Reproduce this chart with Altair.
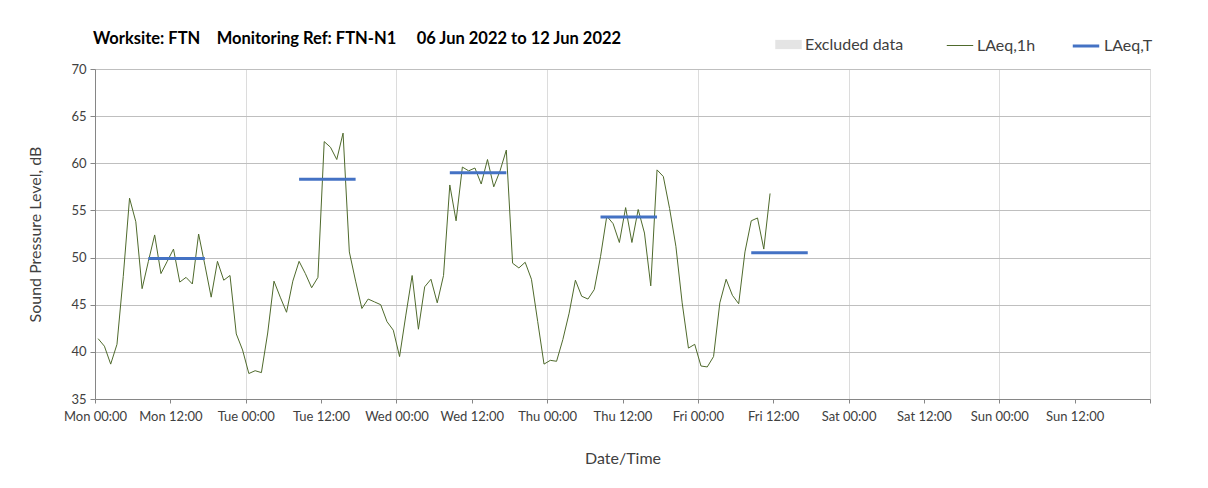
import json
import altair as alt
import pandas as pd

# Hourly LAeq,1h values (dB), Mon 00:30 onwards
laeq_1h = [41.4, 40.6, 38.7, 40.8, 48.0, 56.3, 53.8, 46.7, 49.6, 52.4,
           48.3, 49.6, 50.9, 47.4, 47.9, 47.2, 52.5, 49.2, 45.8, 49.6,
           47.6, 48.1, 41.9, 40.2,
           37.7, 38.0, 37.8, 42.0, 47.5, 45.8, 44.2, 47.5, 49.6, 48.3,
           46.8, 47.9, 62.3, 61.7, 60.4, 63.2, 50.6, 47.5, 44.6, 45.6,
           45.3, 45.0, 43.2, 42.3,
           39.5, 43.9, 48.1, 42.4, 46.9, 47.7, 45.2, 48.1, 57.7, 53.9,
           59.6, 59.2, 59.5, 57.8, 60.4, 57.5, 59.2, 61.4, 49.4, 48.9,
           49.5, 47.7, 43.2, 38.7,
           39.1, 39.0, 41.3, 44.1, 47.6, 45.9, 45.6, 46.6, 50.1, 54.4,
           53.6, 51.6, 55.3, 51.6, 55.1, 52.6, 47.0, 59.3, 58.6, 55.2,
           51.2, 45.2, 40.4, 40.8,
           38.5, 38.4, 39.5, 45.2, 47.7, 46.0, 45.1, 50.6, 53.9, 54.2,
           50.9, 56.8]
first_hour = 0.5

# LAeq,T period values
laeq_t = [49.9, 58.3, 59.0, 54.3, 50.5]
t_start = [8.5, 32.5, 56.5, 80.5, 104.5]
t_end = [17.5, 41.5, 65.5, 89.5, 113.5]

# Axis ticks
tick_values = [0, 12, 24, 36, 48, 60, 72, 84, 96, 108, 120, 132, 144, 156, 168]
tick_labels = ["Mon 00:00", "Mon 12:00", "Tue 00:00", "Tue 12:00", "Wed 00:00",
               "Wed 12:00", "Thu 00:00", "Thu 12:00", "Fri 00:00", "Fri 12:00",
               "Sat 00:00", "Sat 12:00", "Sun 00:00", "Sun 12:00", ""]
y_ticks = [35, 40, 45, 50, 55, 60, 65, 70]

line_names = ["LAeq,1h", "LAeq,T"]
line_colors = ["#4f6a2c", "#4472c4"]
line_widths = [1, 3]
excluded_name = ["Excluded data"]
excluded_color = ["#d9d9d9"]

title_text = ("Worksite: FTN\u2003\u00a0Monitoring Ref: FTN-N1\u2003\u00a0\u00a0"
              "06 Jun 2022 to 12 Jun 2022")

FONT = "Lato"

hours = [first_hour + i for i in range(len(laeq_1h))]
df = pd.DataFrame({"hour": hours, "level": laeq_1h, "series": "LAeq,1h"})
dft = pd.DataFrame({"start": t_start, "end": t_end, "level": laeq_t, "series": "LAeq,T"})
dfx = pd.DataFrame({"hour": pd.Series([], dtype=float), "level": pd.Series([], dtype=float),
                    "excl": pd.Series([], dtype=str)})

label_expr = json.dumps(tick_labels) + "[round(datum.value / 12)]"

x_axis = alt.Axis(
    values=tick_values, labelExpr=label_expr, title="Date/Time",
    labelFont=FONT, labelFontSize=13, labelColor="#404040", labelPadding=7,
    labelAngle=0, labelOverlap=False, labelFlush=False,
    titleFont=FONT, titleFontSize=16, titleFontWeight="normal", titleColor="#404040",
    titlePadding=27,
    tickSize=4, tickColor="#868686", domainColor="#868686",
    gridColor="#dcdcdc",
    gridOpacity={"condition": {"test": "datum.value % 24 === 0", "value": 1}, "value": 0},
)
y_axis = alt.Axis(
    values=y_ticks, title="Sound Pressure Level, dB",
    labelFont=FONT, labelFontSize=13, labelColor="#404040", labelPadding=4,
    titleFont=FONT, titleFontSize=16, titleFontWeight="normal", titleColor="#404040",
    titlePadding=27,
    tickSize=5, tickColor="#868686", domainColor="#868686",
    gridColor="#bfbfbf",
)

x_scale = alt.Scale(domain=[0, 168], nice=False, zero=False)
y_scale = alt.Scale(domain=[35, 70], nice=False, zero=False)

line_legend = alt.Legend(
    title=None, orient="none", direction="horizontal", legendX=851, legendY=-38,
    labelFont=FONT, labelFontSize=16, labelColor="#404040", labelOffset=3,
    symbolType="stroke", symbolSize=700, columnPadding=30,
)
excl_legend = alt.Legend(
    title=None, orient="none", direction="horizontal", legendX=680, legendY=-38,
    labelFont=FONT, labelFontSize=16, labelColor="#404040", labelOffset=3,
    symbolType="M-1,-0.35H1V0.35H-1Z", symbolSize=700, symbolStrokeWidth=0,
)

color = alt.Color("series:N", scale=alt.Scale(domain=line_names, range=line_colors),
                  legend=line_legend)
width = alt.StrokeWidth("series:N", scale=alt.Scale(domain=line_names, range=line_widths),
                        legend=line_legend)

excluded = alt.Chart(dfx).mark_square().encode(
    x=alt.X("hour:Q", scale=x_scale, axis=x_axis),
    y=alt.Y("level:Q", scale=y_scale, axis=y_axis),
    fill=alt.Fill("excl:N", scale=alt.Scale(domain=excluded_name, range=excluded_color),
                  legend=excl_legend),
)

line = alt.Chart(df).mark_line().encode(
    x=alt.X("hour:Q", scale=x_scale, axis=x_axis),
    y=alt.Y("level:Q", scale=y_scale, axis=y_axis),
    color=color,
    strokeWidth=width,
)

rule = alt.Chart(dft).mark_rule().encode(
    x=alt.X("start:Q", scale=x_scale),
    x2="end:Q",
    y=alt.Y("level:Q", scale=y_scale),
    color=color,
    strokeWidth=width,
)

chart = alt.layer(excluded, line, rule).properties(
    width=1055, height=330,
    title=alt.TitleParams(title_text, anchor="start", frame="group", dx=-2, dy=38, offset=22,
                          font=FONT, fontSize=16.5, fontWeight="bold", color="black"),
    autosize=alt.AutoSizeParams(type="none"),
    padding={"left": 87, "top": 61, "right": 50, "bottom": 81},
).configure_view(stroke=None).configure(background="white")

chart.save("out.html", embed_options={"renderer": "svg", "actions": False})
